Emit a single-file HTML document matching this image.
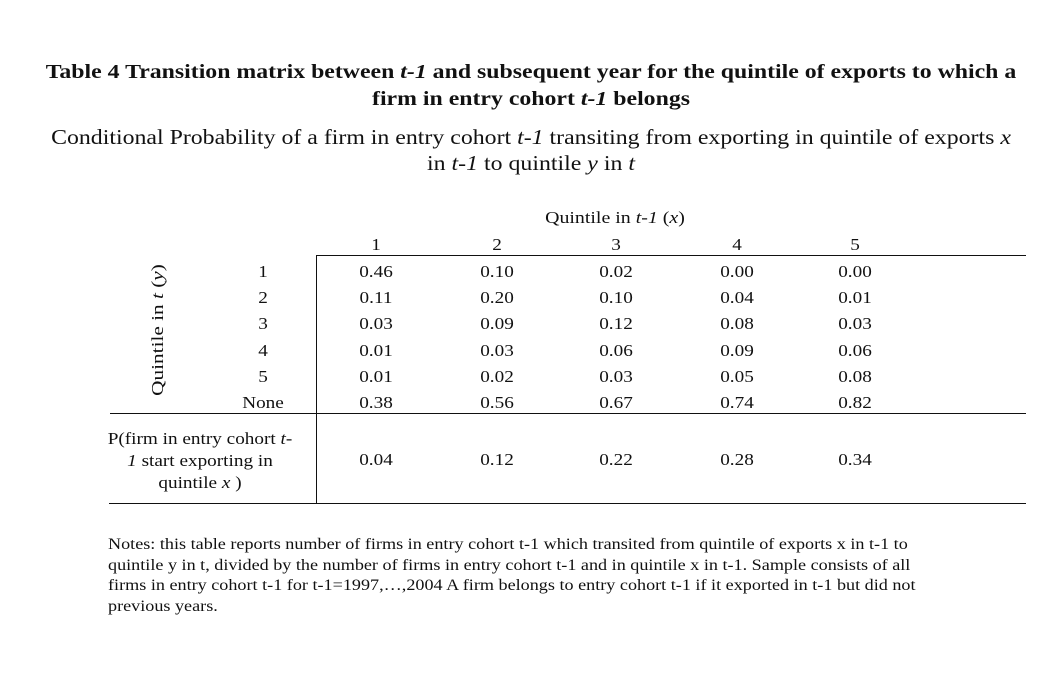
<!DOCTYPE html>
<html><head><meta charset="utf-8"><style>
body{margin:0;width:1049px;height:697px;background:#fff;position:relative;overflow:hidden;font-family:"Liberation Serif",serif;color:#111}
.a{position:absolute;white-space:nowrap}
.c{transform:translateX(-50%) scaleX(1.13);text-align:center}
.t{font-weight:bold;font-size:20px;transform:translateX(-50%) scaleX(1.19)!important}
.s{font-size:21px;transform:translateX(-50%) scaleX(1.135)!important}
.d{font-size:17px}
.n{font-size:15.5px;transform-origin:0 0;transform:scaleX(1.17)}
.ln{position:absolute;background:#111}
</style></head><body>
<div class="a c t" style="left:531px;top:61px">Table 4 Transition matrix between <i>t-1</i> and subsequent year for the quintile of exports to which a</div>
<div class="a c t" style="left:531px;top:88px">firm in entry cohort <i>t-1</i> belongs</div>
<div class="a c s" style="left:531px;top:125px">Conditional Probability of a firm in entry cohort <i>t-1</i> transiting from exporting in quintile of exports <i>x</i></div>
<div class="a c s" style="left:531px;top:151px">in <i>t-1</i> to quintile <i>y</i> in <i>t</i></div>
<div class="a c d" style="left:615px;top:208px;transform:translateX(-50%) scaleX(1.17)">Quintile in <i>t-1</i> (<i>x</i>)</div>
<div class="a d" style="left:158px;top:330px;transform:translate(-50%,-50%) rotate(-90deg) scaleX(1.25)">Quintile in <i>t</i> (<i>y</i>)</div>
<div class="ln" style="left:316px;top:255px;width:710px;height:1px"></div>
<div class="ln" style="left:110px;top:413px;width:916px;height:1px"></div>
<div class="ln" style="left:109px;top:503px;width:917px;height:1px"></div>
<div class="ln" style="left:316px;top:255px;width:1px;height:249px"></div>
<div id="tbl"></div>
<div class="a c d" style="left:200px;top:428px;line-height:22px">P(firm in entry cohort <i>t-</i><br><i>1</i> start exporting in<br>quintile <i>x</i> )</div>
<div class="a n" style="left:108px;top:535px;line-height:20.6px">Notes: this table reports number of firms in entry cohort t-1 which transited from quintile of exports x in t-1 to<br>quintile y in t, divided by the number of firms in entry cohort t-1 and in quintile x in t-1. Sample consists of all<br>firms in entry cohort t-1 for t-1=1997,…,2004 A firm belongs to entry cohort t-1 if it exported in t-1 but did not<br>previous years.</div>
<script>
const cols=["1","2","3","4","5"];
const rows=["1","2","3","4","5","None"];
const vals=[
["0.46","0.10","0.02","0.00","0.00"],
["0.11","0.20","0.10","0.04","0.01"],
["0.03","0.09","0.12","0.08","0.03"],
["0.01","0.03","0.06","0.09","0.06"],
["0.01","0.02","0.03","0.05","0.08"],
["0.38","0.56","0.67","0.74","0.82"]];
const startProb=["0.04","0.12","0.22","0.28","0.34"];
const colX=[376,497,616,737,855], rowY=[262,288,314,341,367,393];
const root=document.getElementById('tbl');
function cell(txt,x,y){const d=document.createElement('div');d.className='a c d';d.style.left=x+'px';d.style.top=y+'px';d.textContent=txt;root.appendChild(d);return d;}
cols.forEach((c,i)=>{const d=cell(c,colX[i],235);

});
rows.forEach((r,j)=>{const d=cell(r,263,rowY[j]);


vals[j].forEach((v,i)=>{const e=cell(v,colX[i],rowY[j]);

});});
startProb.forEach((v,i)=>{const e=cell(v,colX[i],450);

});
</script>
</body></html>
